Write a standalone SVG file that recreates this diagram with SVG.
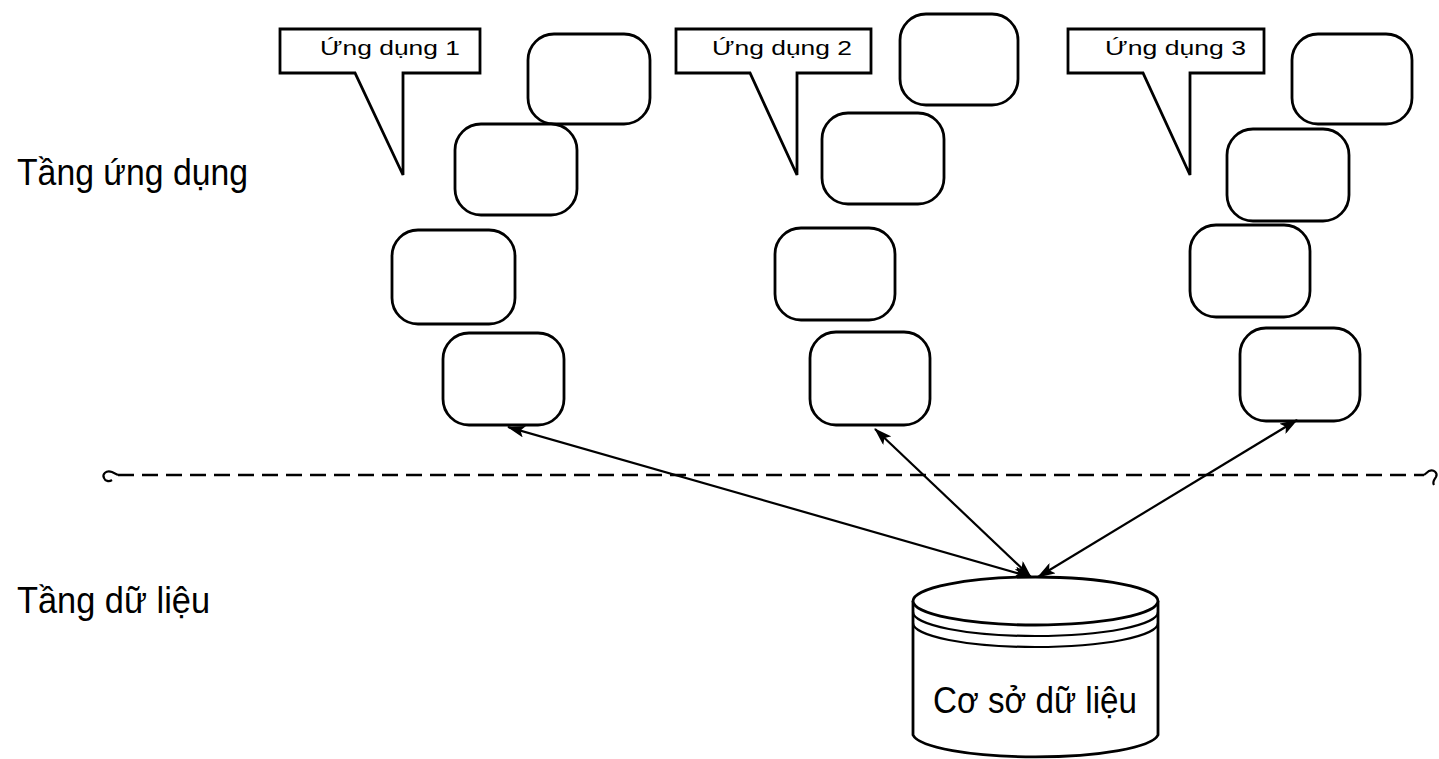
<svg xmlns="http://www.w3.org/2000/svg" width="1439" height="759" viewBox="0 0 1439 759">
  <style>
    .box { fill: #fff; stroke: #000; stroke-width: 2.8; }
    .callout { fill: #fff; stroke: #000; stroke-width: 2.8; stroke-linejoin: miter; }
    .ctext { font-family: "Liberation Sans", Arial, sans-serif; font-size: 21px; fill: #000; }
    .layer { font-family: "Liberation Sans", Arial, sans-serif; font-size: 37px; fill: #000; }
    .link { fill: none; stroke: #000; stroke-width: 2.2; }
    .dash { fill: none; stroke: #000; stroke-width: 2.4; stroke-dasharray: 16 8; }
  </style>
  <defs>
    <marker id="arrow" viewBox="0 0 18 12" refX="17" refY="6" markerWidth="18" markerHeight="12" markerUnits="userSpaceOnUse" orient="auto-start-reverse">
      <path d="M0,0 L18,6 L0,12 L4,6 Z" fill="#000"/>
    </marker>
  </defs>

  <rect width="1439" height="759" fill="#fff"/>

  <!-- layer labels -->
  <text class="layer" x="17" y="185" textLength="231" lengthAdjust="spacingAndGlyphs">Tầng ứng dụng</text>
  <text class="layer" x="17" y="613" textLength="193" lengthAdjust="spacingAndGlyphs">Tầng dữ liệu</text>

  <!-- layer boundary -->
  <g id="boundary">
    <path class="dash" d="M118 475 H1424"/>
    <path class="link" stroke-width="3" d="M118 475 L112 472 C106 470 102 474 104 478 C105 481 109 482 112 480"/>
    <path class="link" stroke-width="3" d="M1424 475 L1429 471 C1434 469 1438 473 1436 477 C1434 480 1432 482 1434 485"/>
  </g>

  <!-- application 1 -->
  <g id="app1">
    <path class="callout" d="M280 29 H480 V73 H403 V175 L355 73 H280 Z"/>
    <text class="ctext" x="320" y="55" textLength="140" lengthAdjust="spacingAndGlyphs">Ứng dụng 1</text>
    <rect class="box" x="528" y="34" width="122" height="90" rx="26"/>
    <rect class="box" x="455" y="124" width="122" height="91" rx="26"/>
    <rect class="box" x="392" y="230" width="123" height="94" rx="26"/>
    <rect class="box" x="443" y="333" width="121" height="92" rx="26"/>
  </g>

  <!-- application 2 -->
  <g id="app2">
    <path class="callout" d="M676 29 H871 V73 H797 V175 L750 73 H676 Z"/>
    <text class="ctext" x="712" y="55" textLength="140" lengthAdjust="spacingAndGlyphs">Ứng dụng 2</text>
    <rect class="box" x="900" y="14" width="118" height="91" rx="26"/>
    <rect class="box" x="822" y="113" width="122" height="91" rx="26"/>
    <rect class="box" x="775" y="228" width="120" height="92" rx="26"/>
    <rect class="box" x="810" y="332" width="120" height="93" rx="26"/>
  </g>

  <!-- application 3 -->
  <g id="app3">
    <path class="callout" d="M1068 29 H1264 V73 H1190 V175 L1143 73 H1068 Z"/>
    <text class="ctext" x="1105" y="55" textLength="141" lengthAdjust="spacingAndGlyphs">Ứng dụng 3</text>
    <rect class="box" x="1292" y="34" width="120" height="90" rx="26"/>
    <rect class="box" x="1227" y="129" width="122" height="92" rx="26"/>
    <rect class="box" x="1190" y="225" width="120" height="92" rx="26"/>
    <rect class="box" x="1240" y="328" width="120" height="93" rx="26"/>
  </g>

  <!-- database -->
  <g id="database">
    <path class="box" d="M913 601 V735 A123 24 0 0 0 1158 735 V601"/>
    <ellipse class="box" cx="1035.5" cy="601" rx="122.5" ry="24"/>
    <path class="link" stroke-width="2.8" d="M913 612 A122.5 24 0 0 0 1158 612"/>
    <path class="link" stroke-width="2.8" d="M913 623 A122.5 24 0 0 0 1158 623"/>
    <text class="layer" x="933" y="713" textLength="204" lengthAdjust="spacingAndGlyphs">Cơ sở dữ liệu</text>
  </g>

  <!-- connectors -->
  <g id="connectors">
    <line class="link" x1="508" y1="427" x2="1031" y2="577" marker-start="url(#arrow)" marker-end="url(#arrow)"/>
    <line class="link" x1="875" y1="429" x2="1031" y2="577" marker-start="url(#arrow)" marker-end="url(#arrow)"/>
    <line class="link" x1="1297" y1="420" x2="1038" y2="577" marker-start="url(#arrow)" marker-end="url(#arrow)"/>
  </g>
</svg>
